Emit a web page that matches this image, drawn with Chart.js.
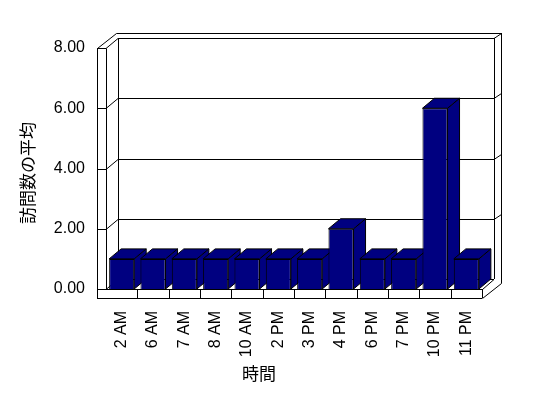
<!DOCTYPE html>
<html>
<head>
<meta charset="utf-8">
<script src="https://cdn.jsdelivr.net/npm/chart.js@4/dist/chart.umd.min.js"></script>
<style>
html, body { margin: 0; padding: 0; background: #fff; }
</style>
</head>
<body>
<canvas id="chart" width="548" height="398"></canvas>
<script>
const hours = ['2 AM', '6 AM', '7 AM', '8 AM', '10 AM', '2 PM', '3 PM', '4 PM', '6 PM', '7 PM', '10 PM', '11 PM'];
const avgVisits = [1, 1, 1, 1, 1, 1, 1, 2, 1, 1, 6, 1];
const yTicks = [0, 2, 4, 6, 8];
const yTitle = '訪問数の平均';
const xTitle = '時間';

const NAVY = '#000080';
const DX = 12, DY = -10;      // depth of the plot box
const WALL = 9;               // wall / floor thickness
const BACK_DX = 7.5, BACK_DY = -5;

function line(ctx, x1, y1, x2, y2) {
    ctx.beginPath();
    ctx.moveTo(x1, y1);
    ctx.lineTo(x2, y2);
    ctx.stroke();
}

// walls, floor and the 3D faces of the columns
const box3d = {
    id: 'box3d',
    beforeDatasetsDraw(chart) {
        const ctx = chart.ctx;
        const { left: L, right: R, top: T, bottom: B } = chart.chartArea;
        const yScale = chart.scales.y;
        const xScale = chart.scales.x;
        const outerL = L - WALL, floorB = B + WALL;
        const backR = R + DX, backOutR = backR + BACK_DX, backOutT = T + DY + BACK_DY;

        ctx.save();
        ctx.strokeStyle = '#000';
        ctx.lineWidth = 1;

        // value ticks on the left wall and gridlines on the back wall
        yTicks.forEach(v => {
            const y = Math.round(yScale.getPixelForValue(v)) + 0.5;
            line(ctx, outerL, y, L, y);
            line(ctx, L, y, L + DX, y + DY);
            line(ctx, L + DX, y + DY, backR, y + DY);
            if (v > 0) line(ctx, backR, y + DY, backOutR, y + DY + BACK_DY);
        });

        // left wall
        line(ctx, outerL + 0.5, T + 0.5, outerL + 0.5, floorB + 0.5);
        line(ctx, L + 0.5, T + 0.5, L + 0.5, B + 0.5);
        line(ctx, outerL + 0.5, T + 0.5, L + DX - 1.5, backOutT + 0.5);
        // back wall
        line(ctx, L + DX - 1.5, backOutT + 0.5, backOutR, backOutT + 0.5);
        line(ctx, L + DX + 0.5, T + DY, L + DX + 0.5, B + DY);
        line(ctx, backR + 0.5, T + DY, backR + 0.5, B + DY);
        line(ctx, backOutR, backOutT, backOutR, floorB + DY + BACK_DY + 0.5);
        // floor
        line(ctx, L, B + 0.5, R, B + 0.5);
        line(ctx, outerL, floorB + 0.5, R, floorB + 0.5);
        line(ctx, R + 0.5, B, R + 0.5, floorB);
        line(ctx, R + 0.5, B + 0.5, backR, B + DY + 0.5);
        line(ctx, R + 0.5, floorB + 0.5, backOutR, floorB + DY + BACK_DY + 0.5);
        for (let i = 1; i < hours.length; i++) {
            const x = Math.round((xScale.getPixelForValue(i - 1) + xScale.getPixelForValue(i)) / 2) + 0.5;
            line(ctx, x, B, x, floorB);
        }

        // top and side faces of each column
        const meta = chart.getDatasetMeta(0);
        ctx.fillStyle = NAVY;
        meta.data.forEach(bar => {
            const { x, y, base, width } = bar.getProps(['x', 'y', 'base', 'width'], true);
            const l = x - width / 2, r = x + width / 2;
            ctx.beginPath();
            ctx.moveTo(r, y);
            ctx.lineTo(r + DX, y + DY);
            ctx.lineTo(r + DX, base + DY);
            ctx.lineTo(r, base);
            ctx.closePath();
            ctx.fill();
            ctx.stroke();
            ctx.beginPath();
            ctx.moveTo(l, y);
            ctx.lineTo(r, y);
            ctx.lineTo(r + DX, y + DY);
            ctx.lineTo(l + DX, y + DY);
            ctx.closePath();
            ctx.fill();
            ctx.stroke();
        });
        ctx.restore();
    },
    afterDraw(chart) {
        const ctx = chart.ctx;
        ctx.save();
        ctx.fillStyle = '#000';
        ctx.font = '17px "Noto Sans CJK JP"';
        ctx.textAlign = 'center';
        ctx.textBaseline = 'middle';
        ctx.fillText(xTitle, 259, 374);
        ctx.translate(28, 173);
        ctx.rotate(-Math.PI / 2);
        ctx.fillText(yTitle, 0, 0);
        ctx.restore();
    }
};

new Chart(document.getElementById('chart').getContext('2d'), {
    type: 'bar',
    data: {
        labels: hours,
        datasets: [{
            data: avgVisits,
            backgroundColor: NAVY,
            borderColor: '#000',
            borderWidth: 1,
            categoryPercentage: 1,
            barPercentage: 0.8
        }]
    },
    options: {
        responsive: false,
        animation: false,
        devicePixelRatio: 1,
        layout: { padding: { top: 48, right: 66, left: 0, bottom: 0 } },
        plugins: {
            legend: { display: false },
            tooltip: { enabled: false }
        },
        scales: {
            x: {
                grid: { display: false },
                border: { display: false },
                ticks: {
                    autoSkip: false,
                    minRotation: 90,
                    maxRotation: 90,
                    padding: 14,
                    color: '#000',
                    font: { family: '"Liberation Sans"', size: 16 }
                },
                afterFit(scale) { scale.height = 109; }
            },
            y: {
                min: 0,
                max: 8,
                grid: { display: false, drawTicks: false },
                border: { display: false },
                ticks: {
                    stepSize: 2,
                    padding: 21,
                    color: '#000',
                    font: { family: '"Liberation Sans"', size: 16 },
                    callback: function(value) {
                        return value.toFixed(2);
                    }
                },
                afterFit(scale) { scale.width = 106; }
            }
        }
    },
    plugins: [box3d]
});
</script>
</body>
</html>
